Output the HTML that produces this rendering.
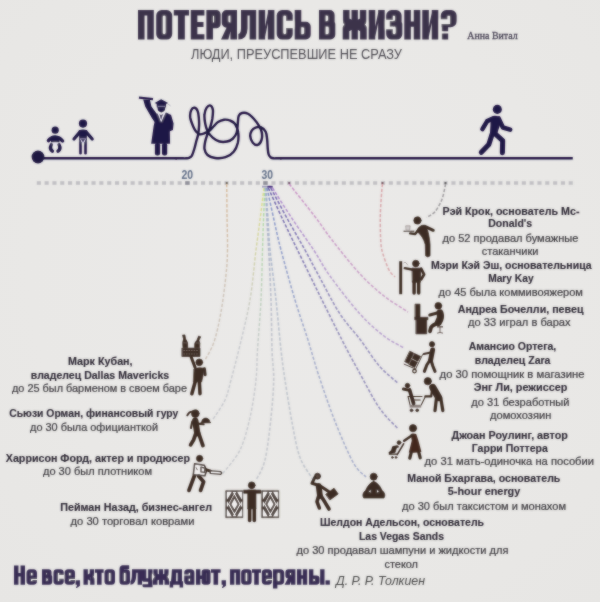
<!DOCTYPE html>
<html lang="ru"><head><meta charset="utf-8"><title>Потерялись в жизни?</title>
<style>
html,body{margin:0;padding:0;background:#e8e7e5;}
body{width:600px;height:602px;overflow:hidden;font-family:"Liberation Sans",sans-serif;}
svg{display:block;}
text{font-family:"Liberation Sans",sans-serif;}
.b{font-weight:bold;font-size:11.3px;fill:#2b2632;stroke:#2b2632;stroke-width:0.12px;}
.r{font-size:11.6px;fill:#39373c;stroke:#39373c;stroke-width:0.22px;}
.nav{fill:#1d1640;}
.br{fill:#3b2a22;}
</style></head><body>
<svg width="600" height="602" viewBox="0 0 600 602">
<defs>
<radialGradient id="bg" cx="50%" cy="45%" r="75%">
<stop offset="0" stop-color="#ebeae9"/><stop offset="0.6" stop-color="#e9e8e6"/><stop offset="1" stop-color="#e7e6e4"/>
</radialGradient>
<filter id="soft" x="0" y="0" width="600" height="602" filterUnits="userSpaceOnUse"><feGaussianBlur stdDeviation="0.8" result="b"/><feComposite in="SourceGraphic" in2="b" operator="arithmetic" k1="0" k2="0.45" k3="0.55" k4="0"/></filter>
</defs>
<rect width="600" height="602" fill="url(#bg)"/>
<g style="will-change:opacity" opacity="0.995" filter="url(#soft)">
<!-- title -->
<g id="title">

<path d="M138.00,10.10h15.80v5.30h-15.80zM138.00,10.10h6.55v29.40h-6.55zM147.25,10.10h6.55v29.40h-6.55z" fill="#3a3049"/>
<path d="M161.64,10.10H166.76A5.44,5.44 0 0 1 172.20,15.54V34.06A5.44,5.44 0 0 1 166.76,39.50H161.64A5.44,5.44 0 0 1 156.20,34.06V15.54A5.44,5.44 0 0 1 161.64,10.10z" fill="#3a3049"/>
<path d="M164.20,15.40H164.20A1.45,1.45 0 0 1 165.65,16.85V32.75A1.45,1.45 0 0 1 164.20,34.20H164.20A1.45,1.45 0 0 1 162.75,32.75V16.85A1.45,1.45 0 0 1 164.20,15.40z" fill="#eae9e8"/>
<path d="M173.80,10.10h15.20v5.30h-15.20zM177.96,10.10h6.88v29.40h-6.88z" fill="#3a3049"/>
<path d="M190.80,10.10h6.55v29.40h-6.55zM190.80,10.10h13.60v5.30h-13.60zM190.80,22.01h12.70v4.88h-12.70zM190.80,34.20h13.60v5.30h-13.60z" fill="#3a3049"/>
<path d="M206.40,10.10h6.55v29.40h-6.55zM206.40,10.10H216.34A4.26,4.26 0 0 1 220.60,14.36V23.92A4.26,4.26 0 0 1 216.34,28.18H206.40V10.10z" fill="#3a3049"/>
<path d="M212.95,15.40H212.65A1.40,1.40 0 0 1 214.05,16.80V21.48A1.40,1.40 0 0 1 212.65,22.88H212.95V15.40z" fill="#eae9e8"/>
<path d="M230.45,10.10h6.55v29.40h-6.55zM226.54,10.10H237.00V27.74H226.54A4.74,4.74 0 0 1 221.80,23.00V14.84A4.74,4.74 0 0 1 226.54,10.10zM227.95,24.74 L230.95,24.74 L230.95,29.24 L228.35,39.50 L221.00,39.50z" fill="#3a3049"/>
<path d="M229.75,15.40H230.45V22.44H229.75A1.40,1.40 0 0 1 228.35,21.04V16.80A1.40,1.40 0 0 1 229.75,15.40z" fill="#eae9e8"/>
<path d="M249.65,10.10h6.55v29.40h-6.55zM241.00,10.10h15.20v5.30h-15.20zM241.00,10.10 L247.55,10.10 L247.55,28.50 Q247.35,39.40 238.40,39.50 L238.40,34.00 Q240.80,33.60 241.00,28.50 z" fill="#3a3049"/>
<path d="M258.60,10.10h6.55v29.40h-6.55zM267.85,10.10h6.55v29.40h-6.55zM264.65,39.00 L264.65,29.00 L268.35,10.60 L268.35,20.60z" fill="#3a3049"/>
<path d="M282.14,10.10H287.26A5.44,5.44 0 0 1 292.70,15.54V34.06A5.44,5.44 0 0 1 287.26,39.50H282.14A5.44,5.44 0 0 1 276.70,34.06V15.54A5.44,5.44 0 0 1 282.14,10.10z" fill="#3a3049"/>
<path d="M284.70,15.40H284.70A1.45,1.45 0 0 1 286.15,16.85V32.75A1.45,1.45 0 0 1 284.70,34.20H284.70A1.45,1.45 0 0 1 283.25,32.75V16.85A1.45,1.45 0 0 1 284.70,15.40zM284.70,20.83h9.00v7.20h-9.00z" fill="#eae9e8"/>
<path d="M294.70,10.10h6.55v29.40h-6.55zM294.70,21.86H305.90A4.80,4.80 0 0 1 310.70,26.66V34.70A4.80,4.80 0 0 1 305.90,39.50H294.70V21.86z" fill="#3a3049"/>
<path d="M301.25,27.16H302.75A1.40,1.40 0 0 1 304.15,28.56V32.80A1.40,1.40 0 0 1 302.75,34.20H301.25V27.16z" fill="#eae9e8"/>
<path d="M319.00,10.10h6.55v29.40h-6.55zM319.00,10.10H329.71A4.89,4.89 0 0 1 334.60,14.99V23.63A2.93,2.93 0 0 1 331.67,26.57H319.00V10.10zM319.00,21.27H332.37A2.93,2.93 0 0 1 335.30,24.20V34.61A4.89,4.89 0 0 1 330.41,39.50H319.00V21.27z" fill="#3a3049"/>
<path d="M325.55,15.40H326.65A1.40,1.40 0 0 1 328.05,16.80V19.87A1.40,1.40 0 0 1 326.65,21.27H325.55V15.40zM325.55,26.57H327.35A1.40,1.40 0 0 1 328.75,27.97V32.80A1.40,1.40 0 0 1 327.35,34.20H325.55V26.57z" fill="#eae9e8"/>
<path d="M351.52,10.10h6.35v29.40h-6.35zM343.10,10.10h6.42v14.70h-6.42zM359.88,10.10h6.42v14.70h-6.42zM342.70,23.33h6.62v16.17h-6.62zM360.08,23.33h6.62v16.17h-6.62zM349.12,18.33 L354.70,21.86 L360.28,18.33 L360.28,31.27 L354.70,28.33 L349.12,31.27z" fill="#3a3049"/>
<path d="M341.70,20.91 L344.40,24.51 L341.70,28.11zM367.70,20.91 L365.00,24.51 L367.70,28.11z" fill="#eae9e8"/>
<path d="M368.70,10.10h6.55v29.40h-6.55zM378.15,10.10h6.55v29.40h-6.55zM374.75,39.00 L374.75,29.00 L378.65,10.60 L378.65,20.60z" fill="#3a3049"/>
<path d="M391.67,10.10H396.13A5.47,5.47 0 0 1 401.60,15.57V23.67A2.90,2.90 0 0 1 398.70,26.57H386.20V15.57A5.47,5.47 0 0 1 391.67,10.10zM386.20,21.27H399.40A2.90,2.90 0 0 1 402.30,24.17V34.03A5.47,5.47 0 0 1 396.83,39.50H391.67A5.47,5.47 0 0 1 386.20,34.03V21.27z" fill="#3a3049"/>
<path d="M394.15,15.40H393.65A1.40,1.40 0 0 1 395.05,16.80V19.87A1.40,1.40 0 0 1 393.65,21.27H394.15A1.40,1.40 0 0 1 392.75,19.87V16.80A1.40,1.40 0 0 1 394.15,15.40zM394.15,26.57H394.35A1.40,1.40 0 0 1 395.75,27.97V32.80A1.40,1.40 0 0 1 394.35,34.20H394.15A1.40,1.40 0 0 1 392.75,32.80V27.97A1.40,1.40 0 0 1 394.15,26.57zM385.20,19.80h7.85v1.47h-7.85zM385.20,26.57h7.85v2.64h-7.85zM385.20,21.17h4.60v5.50h-4.60z" fill="#eae9e8"/>
<path d="M404.30,10.10h6.55v29.40h-6.55zM413.75,10.10h6.55v29.40h-6.55zM404.30,21.42h16.00v5.30h-16.00z" fill="#3a3049"/>
<path d="M422.30,10.10h6.55v29.40h-6.55zM431.75,10.10h6.55v29.40h-6.55zM428.35,39.00 L428.35,29.00 L432.25,10.60 L432.25,20.60z" fill="#3a3049"/>
<path d="M446.17,10.10H451.23A5.37,5.37 0 0 1 456.60,15.47V21.29A6.00,6.00 0 0 1 450.60,27.30H440.80V15.47A5.37,5.37 0 0 1 446.17,10.10zM441.60,23.92h6.55v7.35h-6.55zM441.60,33.62h6.55v5.88h-6.55z" fill="#3a3049"/>
<path d="M448.75,15.40H448.65A1.40,1.40 0 0 1 450.05,16.80V23.92H447.35V16.80A1.40,1.40 0 0 1 448.75,15.40zM439.80,19.21h7.60v4.75h-7.60zM439.80,23.62h1.80v17.20h-1.80z" fill="#eae9e8"/>
<text x="191" y="59.4" font-size="15.3" fill="#48464d" textLength="211" lengthAdjust="spacingAndGlyphs">ЛЮДИ, ПРЕУСПЕВШИЕ НЕ СРАЗУ</text>
<text x="467.3" y="39.2" font-family="Liberation Serif" style="font-family:'Liberation Serif',serif" font-size="10.8" fill="#433e50" stroke="#433e50" stroke-width="0.3" textLength="50.4" lengthAdjust="spacingAndGlyphs">Анна Витал</text>

</g>
<!-- dotted axis -->
<g fill="#c0bfc3"><rect x="36.8" y="181.2" width="4.1" height="3.6"/><rect x="44.6" y="181.2" width="4.1" height="3.6"/><rect x="52.4" y="181.2" width="4.1" height="3.6"/><rect x="60.2" y="181.2" width="4.1" height="3.6"/><rect x="68.0" y="181.2" width="4.1" height="3.6"/><rect x="75.9" y="181.2" width="4.1" height="3.6"/><rect x="83.7" y="181.2" width="4.1" height="3.6"/><rect x="91.5" y="181.2" width="4.1" height="3.6"/><rect x="99.3" y="181.2" width="4.1" height="3.6"/><rect x="107.2" y="181.2" width="4.1" height="3.6"/><rect x="115.0" y="181.2" width="4.1" height="3.6"/><rect x="122.8" y="181.2" width="4.1" height="3.6"/><rect x="130.6" y="181.2" width="4.1" height="3.6"/><rect x="138.4" y="181.2" width="4.1" height="3.6"/><rect x="146.3" y="181.2" width="4.1" height="3.6"/><rect x="154.1" y="181.2" width="4.1" height="3.6"/><rect x="161.9" y="181.2" width="4.1" height="3.6"/><rect x="169.7" y="181.2" width="4.1" height="3.6"/><rect x="177.6" y="181.2" width="4.1" height="3.6"/><rect x="185.4" y="181.2" width="4.1" height="3.6"/><rect x="193.2" y="181.2" width="4.1" height="3.6"/><rect x="201.0" y="181.2" width="4.1" height="3.6"/><rect x="208.9" y="181.2" width="4.1" height="3.6"/><rect x="216.7" y="181.2" width="4.1" height="3.6"/><rect x="224.5" y="181.2" width="4.1" height="3.6"/><rect x="232.3" y="181.2" width="4.1" height="3.6"/><rect x="240.1" y="181.2" width="4.1" height="3.6"/><rect x="248.0" y="181.2" width="4.1" height="3.6"/><rect x="255.8" y="181.2" width="4.1" height="3.6"/><rect x="263.6" y="181.2" width="4.1" height="3.6"/><rect x="271.4" y="181.2" width="4.1" height="3.6"/><rect x="279.3" y="181.2" width="4.1" height="3.6"/><rect x="287.1" y="181.2" width="4.1" height="3.6"/><rect x="294.9" y="181.2" width="4.1" height="3.6"/><rect x="302.7" y="181.2" width="4.1" height="3.6"/><rect x="310.6" y="181.2" width="4.1" height="3.6"/><rect x="318.4" y="181.2" width="4.1" height="3.6"/><rect x="326.2" y="181.2" width="4.1" height="3.6"/><rect x="334.0" y="181.2" width="4.1" height="3.6"/><rect x="341.8" y="181.2" width="4.1" height="3.6"/><rect x="349.7" y="181.2" width="4.1" height="3.6"/><rect x="357.5" y="181.2" width="4.1" height="3.6"/><rect x="365.3" y="181.2" width="4.1" height="3.6"/><rect x="373.1" y="181.2" width="4.1" height="3.6"/><rect x="381.0" y="181.2" width="4.1" height="3.6"/><rect x="388.8" y="181.2" width="4.1" height="3.6"/><rect x="396.6" y="181.2" width="4.1" height="3.6"/><rect x="404.4" y="181.2" width="4.1" height="3.6"/><rect x="412.3" y="181.2" width="4.1" height="3.6"/><rect x="420.1" y="181.2" width="4.1" height="3.6"/><rect x="427.9" y="181.2" width="4.1" height="3.6"/><rect x="435.7" y="181.2" width="4.1" height="3.6"/><rect x="443.5" y="181.2" width="4.1" height="3.6"/><rect x="451.4" y="181.2" width="4.1" height="3.6"/><rect x="459.2" y="181.2" width="4.1" height="3.6"/><rect x="467.0" y="181.2" width="4.1" height="3.6"/><rect x="474.8" y="181.2" width="4.1" height="3.6"/><rect x="482.7" y="181.2" width="4.1" height="3.6"/><rect x="490.5" y="181.2" width="4.1" height="3.6"/><rect x="498.3" y="181.2" width="4.1" height="3.6"/><rect x="506.1" y="181.2" width="4.1" height="3.6"/><rect x="514.0" y="181.2" width="4.1" height="3.6"/><rect x="521.8" y="181.2" width="4.1" height="3.6"/><rect x="529.6" y="181.2" width="4.1" height="3.6"/><rect x="537.4" y="181.2" width="4.1" height="3.6"/><rect x="545.2" y="181.2" width="4.1" height="3.6"/><rect x="553.1" y="181.2" width="4.1" height="3.6"/><rect x="560.9" y="181.2" width="4.1" height="3.6"/><rect x="568.7" y="181.2" width="4.1" height="3.6"/></g>
<rect x="185.2" y="181.2" width="4.4" height="3.6" fill="#8e8e98"/>
<rect x="263.2" y="181.2" width="4.4" height="3.6" fill="#8e8e98"/>
<text x="181.4" y="178.7" font-size="13.2" font-weight="bold" fill="#5e6c86" textLength="11.6" lengthAdjust="spacingAndGlyphs">20</text>
<text x="261.6" y="178.7" font-size="13.2" font-weight="bold" fill="#5e6c86" textLength="11.5" lengthAdjust="spacingAndGlyphs">30</text>
<!-- curves -->
<defs>
<linearGradient id="cg0" gradientUnits="userSpaceOnUse" x1="0" y1="184" x2="0" y2="360"><stop offset="0" stop-color="#d6b694"/><stop offset="0.3" stop-color="#d1bba4"/><stop offset="0.6" stop-color="#cbc0b5"/><stop offset="1" stop-color="#cbc0b5"/></linearGradient>
<linearGradient id="cg1" gradientUnits="userSpaceOnUse" x1="0" y1="188" x2="0" y2="420"><stop offset="0" stop-color="#dcdc80"/><stop offset="0.3" stop-color="#d0d1a6"/><stop offset="0.6" stop-color="#c4c6cb"/><stop offset="1" stop-color="#c4c6cb"/></linearGradient>
<linearGradient id="cg2" gradientUnits="userSpaceOnUse" x1="0" y1="188" x2="0" y2="474"><stop offset="0" stop-color="#a8dc98"/><stop offset="0.3" stop-color="#b6d1b2"/><stop offset="0.6" stop-color="#c4c6cb"/><stop offset="1" stop-color="#c4c6cb"/></linearGradient>
<linearGradient id="cg3" gradientUnits="userSpaceOnUse" x1="0" y1="188" x2="0" y2="480"><stop offset="0" stop-color="#a6aec8"/><stop offset="0.3" stop-color="#b4b9c9"/><stop offset="0.6" stop-color="#c2c5cb"/><stop offset="1" stop-color="#c2c5cb"/></linearGradient>
<linearGradient id="cg4" gradientUnits="userSpaceOnUse" x1="0" y1="188" x2="0" y2="479"><stop offset="0" stop-color="#9fb0cc"/><stop offset="0.3" stop-color="#afb9cc"/><stop offset="0.6" stop-color="#bec3cb"/><stop offset="1" stop-color="#bec3cb"/></linearGradient>
<linearGradient id="cg5" gradientUnits="userSpaceOnUse" x1="0" y1="188" x2="0" y2="477"><stop offset="0" stop-color="#7f8fc6"/><stop offset="0.3" stop-color="#909dc7"/><stop offset="0.6" stop-color="#a2aac8"/><stop offset="1" stop-color="#a2aac8"/></linearGradient>
<linearGradient id="cg6" gradientUnits="userSpaceOnUse" x1="0" y1="188" x2="0" y2="428"><stop offset="0" stop-color="#6a60a8"/><stop offset="0.3" stop-color="#7d75af"/><stop offset="0.6" stop-color="#908bb7"/><stop offset="1" stop-color="#908bb7"/></linearGradient>
<linearGradient id="cg7" gradientUnits="userSpaceOnUse" x1="0" y1="188" x2="0" y2="383"><stop offset="0" stop-color="#6e62ac"/><stop offset="0.3" stop-color="#8077b3"/><stop offset="0.6" stop-color="#928cb9"/><stop offset="1" stop-color="#928cb9"/></linearGradient>
<linearGradient id="cg8" gradientUnits="userSpaceOnUse" x1="0" y1="188" x2="0" y2="348"><stop offset="0" stop-color="#ac86cc"/><stop offset="0.3" stop-color="#b091cc"/><stop offset="0.6" stop-color="#b49ccc"/><stop offset="1" stop-color="#b49ccc"/></linearGradient>
<linearGradient id="cg9" gradientUnits="userSpaceOnUse" x1="0" y1="184" x2="0" y2="312"><stop offset="0" stop-color="#c890c4"/><stop offset="0.3" stop-color="#c895c5"/><stop offset="0.6" stop-color="#c79bc5"/><stop offset="1" stop-color="#c79bc5"/></linearGradient>
<linearGradient id="cg10" gradientUnits="userSpaceOnUse" x1="0" y1="184" x2="0" y2="277"><stop offset="0" stop-color="#d8a0a4"/><stop offset="0.3" stop-color="#d7a2a6"/><stop offset="0.6" stop-color="#d6a4a8"/><stop offset="1" stop-color="#d6a4a8"/></linearGradient>
<linearGradient id="cg11" gradientUnits="userSpaceOnUse" x1="0" y1="184" x2="0" y2="218"><stop offset="0" stop-color="#9a979a"/><stop offset="0.3" stop-color="#9a979a"/><stop offset="0.6" stop-color="#9a979a"/><stop offset="1" stop-color="#9a979a"/></linearGradient>
</defs>
<path d="M226.7,184.0 C226.8,189.2 226.9,204.0 227.0,215.0 C227.1,226.0 227.7,240.0 227.5,250.0 C227.3,260.0 227.1,264.7 226.0,275.0 C224.9,285.3 223.0,300.8 221.0,312.0 C219.0,323.2 216.7,334.0 214.0,342.0 C211.3,350.0 206.5,357.0 205.0,360.0" fill="none" stroke="url(#cg0)" stroke-width="1.40" stroke-dasharray="3.3 1.7"/>
<path d="M264.0,188.0 C263.3,193.3 261.3,209.7 260.0,220.0 C258.7,230.3 257.7,236.7 256.0,250.0 C254.3,263.3 252.7,284.2 250.0,300.0 C247.3,315.8 243.2,331.7 240.0,345.0 C236.8,358.3 233.5,370.8 231.0,380.0 C228.5,389.2 228.1,393.3 225.0,400.0 C221.9,406.7 214.6,416.7 212.5,420.0" fill="none" stroke="url(#cg1)" stroke-width="1.40" stroke-dasharray="3.3 1.7"/>
<path d="M264.8,188.0 C264.6,193.3 263.9,209.7 263.5,220.0 C263.1,230.3 262.9,236.7 262.5,250.0 C262.1,263.3 261.8,283.3 261.0,300.0 C260.2,316.7 258.3,336.7 257.5,350.0 C256.7,363.3 257.2,368.8 256.0,380.0 C254.8,391.2 252.7,405.8 250.0,417.5 C247.3,429.2 244.6,440.6 240.0,450.0 C235.4,459.4 225.4,469.8 222.5,473.7" fill="none" stroke="url(#cg2)" stroke-width="1.40" stroke-dasharray="3.3 1.7"/>
<path d="M265.5,188.0 C265.8,193.3 266.5,209.7 267.0,220.0 C267.5,230.3 268.0,236.7 268.7,250.0 C269.4,263.3 270.4,283.3 271.0,300.0 C271.6,316.7 271.6,336.7 272.0,350.0 C272.4,363.3 273.9,368.8 273.7,380.0 C273.5,391.2 272.4,404.2 271.0,417.5 C269.6,430.8 267.5,449.6 265.0,460.0 C262.5,470.4 257.5,476.7 256.0,480.0" fill="none" stroke="url(#cg3)" stroke-width="1.60" stroke-dasharray="3.3 1.7"/>
<path d="M266.0,188.0 C266.3,193.3 267.3,209.7 268.0,220.0 C268.7,230.3 268.7,236.7 270.0,250.0 C271.3,263.3 274.2,283.3 276.0,300.0 C277.8,316.7 279.5,336.7 281.0,350.0 C282.5,363.3 283.1,367.5 285.0,380.0 C286.9,392.5 290.0,412.1 292.5,425.0 C295.0,437.9 296.7,448.6 300.0,457.5 C303.3,466.4 310.4,475.2 312.5,478.7" fill="none" stroke="url(#cg4)" stroke-width="1.60" stroke-dasharray="3.3 1.7"/>
<path d="M267.0,188.0 C268.2,193.3 271.7,209.7 274.0,220.0 C276.3,230.3 277.5,236.7 281.0,250.0 C284.5,263.3 290.5,285.0 295.0,300.0 C299.5,315.0 304.1,327.5 308.0,340.0 C311.9,352.5 314.1,361.4 318.6,375.0 C323.1,388.6 329.2,406.7 335.0,421.4 C340.8,436.1 348.3,453.7 353.5,463.0 C358.7,472.3 363.9,474.7 366.0,477.0" fill="none" stroke="url(#cg5)" stroke-width="1.50" stroke-dasharray="3.3 1.7"/>
<path d="M268.3,188.0 C270.8,193.3 278.1,209.7 283.0,220.0 C287.9,230.3 291.3,237.3 297.5,250.0 C303.7,262.7 312.6,281.0 320.0,296.0 C327.4,311.0 335.7,327.7 342.0,340.0 C348.3,352.3 351.8,358.8 358.0,370.0 C364.2,381.2 372.4,397.7 379.0,407.4 C385.6,417.1 394.6,424.9 397.7,428.4" fill="none" stroke="url(#cg6)" stroke-width="1.55" stroke-dasharray="3.3 1.7"/>
<path d="M270.8,188.0 C273.7,193.3 282.3,209.7 288.0,220.0 C293.7,230.3 299.7,240.3 305.0,250.0 C310.3,259.7 314.2,267.3 320.0,278.0 C325.8,288.7 333.2,303.7 340.0,314.0 C346.8,324.3 354.0,331.4 360.5,340.0 C367.0,348.6 372.8,358.4 379.0,365.6 C385.2,372.8 394.6,380.1 397.7,383.0" fill="none" stroke="url(#cg7)" stroke-width="1.55" stroke-dasharray="3.3 1.7"/>
<path d="M272.5,188.0 C275.9,193.3 286.1,209.7 293.0,220.0 C299.9,230.3 307.5,240.7 313.7,250.0 C319.9,259.3 322.3,265.3 330.0,276.0 C337.7,286.7 351.0,304.0 360.0,314.0 C369.0,324.0 376.7,330.3 384.0,336.0 C391.3,341.7 400.7,346.0 404.0,348.0" fill="none" stroke="url(#cg8)" stroke-width="1.50" stroke-dasharray="3.3 1.7"/>
<path d="M289.2,184.0 C293.5,189.4 307.9,207.4 315.0,216.7 C322.1,226.0 324.5,230.4 332.0,240.0 C339.5,249.6 351.3,264.7 360.0,274.0 C368.7,283.3 376.0,289.7 384.0,296.0 C392.0,302.3 404.0,309.3 408.0,312.0" fill="none" stroke="url(#cg9)" stroke-width="1.50" stroke-dasharray="3.3 1.7"/>
<path d="M382.5,184.0 C382.4,185.3 382.1,186.2 381.7,191.7 C381.3,197.1 380.4,208.4 380.3,216.7 C380.2,225.0 380.4,235.5 380.8,241.7 C381.2,247.9 381.6,249.3 383.0,254.0 C384.4,258.7 387.0,266.2 389.0,270.0 C391.0,273.8 394.0,275.8 395.0,277.0" fill="none" stroke="url(#cg10)" stroke-width="1.50" stroke-dasharray="3.3 1.7"/>
<path d="M445.5,184.0 C445.4,184.5 445.6,184.3 445.0,187.0 C444.4,189.7 443.4,195.9 441.7,200.0 C440.0,204.1 437.5,208.8 435.0,211.7 C432.5,214.6 428.1,216.5 426.7,217.5" fill="none" stroke="url(#cg11)" stroke-width="1.50" stroke-dasharray="3.3 1.7"/>
<rect x="225.8" y="182" width="1.8" height="2" fill="#5a5040"/>
<rect x="288.3" y="182" width="1.8" height="2" fill="#6a3a5a"/>
<rect x="381.6" y="182" width="1.8" height="2" fill="#6a3a45"/>
<rect x="444.6" y="182" width="1.8" height="2" fill="#444"/>
<rect x="262" y="185.8" width="5.5" height="1.8" fill="#9a98b8"/>
<rect x="267.3" y="185.8" width="5.4" height="1.9" fill="#3a1d78"/>
<!-- timeline -->
<path d="M38,158.3 L177,158.3" stroke="#1d1640" stroke-width="2.6" fill="none"/>
<path d="M176.0,158.3 C176.9,158.3 179.6,158.3 181.3,158.3 C183.0,158.3 184.9,158.4 186.2,158.3 C187.5,158.2 188.2,158.3 189.2,157.8 C190.1,157.4 191.0,157.1 191.9,155.6 C192.7,154.1 193.6,151.3 194.3,149.0 C195.0,146.6 195.6,143.9 196.2,141.5 C196.9,139.0 197.7,137.0 198.2,134.3 C198.7,131.5 199.0,127.8 199.1,125.0 C199.2,122.2 199.0,119.8 198.8,117.5 C198.6,115.2 198.4,112.8 197.7,111.2 C197.1,109.6 195.8,107.9 194.7,107.7 C193.7,107.5 192.0,108.4 191.3,110.0 C190.5,111.6 189.9,114.7 190.2,117.5 C190.6,120.2 192.2,124.1 193.2,126.5 C194.2,128.9 195.1,130.4 196.2,131.7 C197.4,133.0 198.6,134.0 200.0,134.3 C201.4,134.5 203.0,133.8 204.5,133.2 C206.0,132.7 207.5,132.1 209.0,131.0 C210.5,129.9 212.0,128.0 213.5,126.5 C215.0,125.0 216.2,123.1 218.0,122.0 C219.7,120.9 222.0,120.0 224.0,119.7 C226.0,119.5 228.1,119.7 230.0,120.5 C231.9,121.2 233.9,122.2 235.2,124.2 C236.6,126.2 237.8,129.4 238.2,132.5 C238.7,135.6 238.5,139.8 237.8,143.0 C237.0,146.2 235.8,149.3 233.7,151.7 C231.7,154.1 228.6,156.2 225.5,157.2 C222.4,158.3 218.0,158.4 215.0,158.0 C212.0,157.6 209.2,156.5 207.5,155.0 C205.7,153.5 204.9,151.2 204.5,149.0 C204.1,146.7 204.7,144.0 205.2,141.5 C205.7,139.0 206.7,136.4 207.5,134.0 C208.3,131.6 209.4,129.7 210.2,127.2 C211.0,124.7 211.8,121.9 212.3,119.0 C212.7,116.1 213.2,112.2 212.9,110.0 C212.6,107.7 211.5,105.9 210.5,105.5 C209.5,105.1 207.7,106.2 206.7,107.7 C205.7,109.2 204.7,111.9 204.5,114.5 C204.2,117.1 204.7,120.7 205.2,123.5 C205.7,126.2 206.2,128.6 207.5,131.0 C208.7,133.4 210.7,136.0 212.7,137.7 C214.7,139.5 217.1,140.9 219.5,141.5 C221.9,142.1 224.7,142.0 227.0,141.5 C229.2,141.0 231.4,140.0 233.0,138.5 C234.6,137.0 235.9,135.0 236.7,132.5 C237.5,130.0 237.5,126.2 237.8,123.5 C238.1,120.7 238.0,117.7 238.7,116.0 C239.4,114.2 240.4,113.4 242.0,113.0 C243.5,112.6 246.0,112.7 248.0,113.7 C250.0,114.7 252.1,116.9 254.0,119.0 C255.9,121.1 257.9,123.9 259.2,126.2 C260.5,128.4 261.4,130.2 261.8,132.5 C262.2,134.8 262.2,137.9 261.5,140.0 C260.8,142.1 259.2,144.5 257.7,144.9 C256.3,145.4 254.0,144.1 252.8,142.7 C251.5,141.2 250.4,138.2 250.2,136.2 C250.1,134.2 250.9,132.1 251.7,130.7 C252.6,129.3 254.0,128.3 255.5,127.7 C257.0,127.1 259.0,126.6 260.7,127.2 C262.4,127.9 264.6,129.6 265.7,131.7 C266.8,133.9 266.8,137.1 267.2,140.0 C267.5,142.9 267.5,146.5 267.8,149.0 C268.0,151.4 268.2,153.3 268.7,154.7 C269.2,156.1 270.0,156.9 270.8,157.5 C271.6,158.1 272.4,158.2 273.5,158.3 C274.6,158.4 276.0,158.3 277.2,158.3 C278.5,158.3 280.4,158.3 281.0,158.3" stroke="#1d1640" stroke-width="2.4" fill="none" stroke-linecap="round" stroke-linejoin="round"/>
<path d="M280,158.3 L572.8,158.3" stroke="#1d1640" stroke-width="2.6" fill="none"/>
<circle cx="38" cy="157" r="6.4" class="nav"/>

<!-- baby + child (coords from 10x zoom of region 40,115) -->
<g transform="translate(40,115) scale(0.1)" fill="#1d1444" stroke="#1d1444" stroke-linecap="round" stroke-linejoin="round">
<circle cx="152" cy="152" r="36" stroke="none"/>
<path d="M84,256 Q110,222 152,220 Q196,222 226,260" fill="none" stroke-width="34"/>
<path d="M110,216 H195 V274 H110z" stroke="none"/>
<path d="M122,274 H182 L170,304 Q152,314 134,304z" fill="#e6e3ee" stroke="none"/>
<path d="M114,298 Q92,338 124,362" fill="none" stroke-width="34"/>
<path d="M190,298 Q212,338 180,362" fill="none" stroke-width="34"/>
<circle cx="430" cy="86" r="41" stroke="none"/>
<path d="M402,166 L340,240" fill="none" stroke-width="32"/>
<path d="M458,166 L522,240" fill="none" stroke-width="32"/>
<path d="M388,152 Q430,138 472,152 L466,252 H394z" stroke="none"/>
<path d="M405,245 V383" fill="none" stroke-width="26"/>
<path d="M455,245 V383" fill="none" stroke-width="26"/>
<path d="M400,236 H460 L450,262 L430,288 L410,262z" fill="#cfc9e2" stroke="none"/>
<path d="M410,242 H450 L430,270z" fill="#1d1444" stroke="none"/>
</g>
<!-- graduate (coords from 8.033x zoom of region 130,90) -->
<g transform="translate(130,90) scale(0.12449)" fill="#1d1444" stroke="none">
<path d="M73,52 L186,64 L184,82 L71,70z"/>
<path d="M106,76 L160,80 L172,132 L222,200 L205,268 L178,228 L122,132z"/>
<path d="M198,104 L250,74 L306,104 L252,128z"/>
<path d="M214,112 L290,112 L288,140 L216,140z"/>
<path d="M222,128 H282 V150 Q280,176 252,180 Q224,176 222,150z"/>
<path d="M222,131 H284" stroke="#cfc9e2" stroke-width="5"/>
<path d="M302,110 L326,128" stroke="#8f8aa8" stroke-width="5"/>
<path d="M214,186 L250,200 L290,180 L330,200 L350,270 L345,322 L320,332 L322,432 L170,432 L190,290z"/>
<path d="M220,184 L250,262 L286,182 L268,178 L250,238 L234,180z" fill="#e6e3ee"/>
<rect x="200" y="425" width="42" height="102" rx="18"/>
<rect x="257" y="425" width="42" height="102" rx="18"/>
</g>
<!-- walker (coords from 7.5x zoom of region 460,95) -->
<g transform="translate(460,95) scale(0.13333)" fill="#1d1444" stroke="#1d1444" stroke-linecap="round" stroke-linejoin="round">
<circle cx="280" cy="108" r="34" stroke="none"/>
<path d="M230,166 Q262,144 296,166 L304,212 L276,298 L224,302 L228,230z" stroke="none"/>
<path d="M238,180 L204,196 L168,256" fill="none" stroke-width="34"/>
<path d="M290,176 L322,244 L376,260" fill="none" stroke-width="34"/>
<path d="M240,296 L216,372 L160,430" fill="none" stroke-width="38"/>
<path d="M262,290 L320,342 L318,432" fill="none" stroke-width="38"/>
</g>


<g fill="#3a2a22" stroke="#3a2a22" stroke-linecap="round" stroke-linejoin="round">
<!-- 1 waiter + 2 door (6.333x of 395,205) -->
<g transform="translate(395,205) scale(0.15789)">
<circle cx="142" cy="98" r="23" stroke-width="4.4"/>
<path d="M150,142 Q170,122 192,128 Q214,160 222,250 L222,322 Q208,336 194,322 L192,252 Q180,200 140,168z" stroke-width="4.4"/>
<path d="M196,138 L242,160" fill="none" stroke-width="19.4"/>
<path d="M152,152 L128,184 L96,180" fill="none" stroke-width="15.1"/>
<path d="M54,166 H122" fill="none" stroke-width="6.5" stroke-linecap="butt"/>
<path d="M70,132 H96 L93,160 H73z" fill="#cfcacb" stroke="#8a807d" stroke-width="4"/>
<path d="M36,356 V565" fill="none" stroke-width="18.4" stroke-linecap="butt"/>
<circle cx="132" cy="371" r="21" stroke-width="4.4"/>
<path d="M110,400 H164 L160,490 H112z" stroke-width="4.4"/>
<path d="M166,404 L184,440 L166,470" fill="none" stroke-width="17.3"/>
<path d="M114,410 L62,400" fill="none" stroke-width="15.1"/>
<path d="M121,485 V558" fill="none" stroke-width="21.6"/>
<path d="M150,485 V558" fill="none" stroke-width="21.6"/>
<path d="M56,366 q8,-8 14,0 q6,8 10,14" fill="none" stroke="#8a807d" stroke-width="4"/>
</g>
<!-- 3 piano (12x of 405,295) -->
<g transform="translate(405,295) scale(0.08333)">
<path d="M125,110 H180 V272 H125z" stroke-width="8.4"/>
<path d="M120,268 H275 V296 H120z" stroke-width="8.4"/>
<path d="M135,294 H260 V466 H135z" stroke-width="8.4"/>
<circle cx="400" cy="130" r="41" stroke-width="8.4"/>
<path d="M420,215 Q440,270 400,330" fill="none" stroke-width="84.2"/>
<path d="M396,214 L298,240" fill="none" stroke-width="36.7"/>
<path d="M400,338 Q330,360 312,390 L300,436" fill="none" stroke-width="45.4"/>
<path d="M384,382 H456" fill="none" stroke-width="14" stroke-linecap="butt" stroke="#4a3a33"/>
<path d="M420,388 V444 M390,456 Q420,440 452,456" fill="none" stroke-width="10" stroke="#55443e"/>
</g>
<!-- 4 hand truck (10x of 395,335) -->
<g transform="translate(395,335) scale(0.1)">
<circle cx="370" cy="92" r="26" stroke-width="7.0"/>
<path d="M376,150 L356,250" fill="none" stroke-width="49.7"/>
<path d="M366,172 L288,190" fill="none" stroke-width="21.6"/>
<path d="M350,250 L318,300 L294,364" fill="none" stroke-width="30.2"/>
<path d="M360,250 L378,310 L400,364" fill="none" stroke-width="30.2"/>
<path d="M276,196 L206,340 L92,292" fill="none" stroke-width="8.6"/>
<circle cx="195" cy="361" r="18" fill="none" stroke-width="11.9"/>
<path d="M150,163 L186,180 L136,286 L100,268z" stroke-width="7.0"/>
<path d="M196,186 L256,214 L228,262 L172,232z" stroke-width="7.0"/>
<path d="M166,244 L224,272 L196,324 L142,296z" stroke-width="7.0"/>
</g>
<!-- 5 shopping cart (10x of 395,375) -->
<g transform="translate(395,375) scale(0.1)">
<circle cx="328" cy="62" r="36" stroke-width="7.0"/>
<path d="M378,124 L436,226" fill="none" stroke-width="71.3"/>
<path d="M372,132 L362,214 L304,214" fill="none" stroke-width="22.7"/>
<path d="M414,236 L400,356" fill="none" stroke-width="32.4"/>
<path d="M458,232 L478,356" fill="none" stroke-width="32.4"/>
<path d="M304,214 L262,300 M130,214 H270 M130,214 L150,300 M190,250 H252" fill="none" stroke-width="10.3"/>
<path d="M146,298 H262 V326 H146z" fill="#8a7f7c" stroke="none"/>
<circle cx="165" cy="353" r="14" stroke-width="7.0"/><circle cx="222" cy="353" r="14" stroke-width="7.0"/>
<circle cx="125" cy="106" r="23" stroke-width="7.0"/>
<path d="M146,150 L186,286" fill="none" stroke-width="36.7"/>
<path d="M84,140 L146,154" fill="none" stroke-width="29.2"/>
</g>
<!-- 6 stroller (10x of 380,420) -->
<g transform="translate(380,420) scale(0.1)">
<circle cx="330" cy="82" r="36" stroke-width="7.0"/>
<path d="M306,140 Q334,128 362,140 L382,200 L414,318 Q350,334 288,324 L318,204z" stroke="none" fill="#43281f"/>
<path d="M322,152 L242,208" fill="none" stroke-width="25.9"/>
<path d="M312,326 L298,382" fill="none" stroke-width="32.4"/>
<path d="M388,324 L402,378" fill="none" stroke-width="32.4"/>
<path d="M236,238 L172,346" fill="none" stroke-width="16.2"/>
<circle cx="190" cy="226" r="19" stroke-width="7.0"/>
<path d="M176,266 L132,274 L122,308 L98,330" fill="none" stroke-width="23.8"/>
<path d="M170,262 L150,326 L106,334 L128,296 L132,268z" stroke-width="7.0"/>
<path d="M94,342 H172" fill="none" stroke-width="13.0"/>
<circle cx="124" cy="374" r="9" stroke-width="7.0"/><circle cx="160" cy="374" r="9" stroke-width="7.0"/>
</g>
<!-- 7 salesman + 8 monk (6x of 295,460) -->
<g transform="translate(295,460) scale(0.16667)">
<circle cx="135" cy="97" r="18" stroke-width="4.2"/>
<circle cx="135" cy="97" r="9" fill="#5a4a42" stroke="none"/>
<path d="M118,106 L102,140 L140,152" fill="none" stroke-width="18.4"/>
<path d="M142,156 L150,216" fill="none" stroke-width="34.6"/>
<path d="M152,156 L204,190" fill="none" stroke-width="18.4"/>
<path d="M0,-21 H60 V21 H0z" transform="translate(198,222) rotate(-36)" stroke-width="4.2"/>
<path d="M142,216 L132,250 L146,288" fill="none" stroke-width="21.6"/>
<path d="M156,216 L180,254 L204,294" fill="none" stroke-width="21.6"/>
<circle cx="472" cy="100" r="21" stroke-width="4.2"/>
<path d="M472,128 Q504,140 522,182 Q548,204 534,228 L412,228 Q398,204 424,182 Q442,140 472,128z" stroke-width="4.2"/>
<path d="M442,188 L454,180 V196z M504,188 L492,180 V196z" fill="#d8d3d2" stroke="none"/>
</g>
<!-- 9 bartender (8.6x of 170,330) -->
<g transform="translate(170,330) scale(0.11628)">
<path d="M105,156 H258 V228 H105z" stroke-width="6.0"/>
<path d="M118,176 H246 M118,206 H246" fill="none" stroke="#9a8d88" stroke-width="5" stroke-dasharray="8 14"/>
<path d="M110,44 L128,42 L134,78 Q158,100 152,152 H112 Q104,104 116,80z" stroke-width="6.0"/>
<path d="M262,58 L246,52 L232,88 Q206,104 212,152 H254 Q262,110 250,90z" stroke-width="6.0"/>
<path d="M120,110 L140,112 M226,112 L246,112" fill="none" stroke="#8a7f7c" stroke-width="5"/>
<path d="M182,232 L216,322" fill="none" stroke-width="25.9"/>
<circle cx="252" cy="278" r="29" stroke-width="6.0"/>
<path d="M208,334 Q250,318 290,328 L284,392 L272,446 H204z" stroke-width="6.0"/>
<path d="M296,334 L302,384" fill="none" stroke-width="25.9"/>
<path d="M218,440 L188,548" fill="none" stroke-width="30.2"/>
<path d="M252,440 L258,548" fill="none" stroke-width="30.2"/>
</g>
<!-- 10 waitress + 11 carpenter (6.0167x of 175,400) -->
<g transform="translate(175,400) scale(0.1662)">
<circle cx="122" cy="82" r="23" stroke-width="4.2"/>
<path d="M104,70 Q84,70 74,92" fill="none" stroke-width="11.9"/>
<path d="M122,124 L134,200" fill="none" stroke-width="37.8"/>
<path d="M104,130 L96,168" fill="none" stroke-width="13.0"/>
<path d="M136,142 L172,146" fill="none" stroke-width="13.0"/>
<path d="M160,134 A25,25 0 0 1 210,134z" stroke-width="4.2"/>
<path d="M156,136 H214" fill="none" stroke-width="5.4"/>
<path d="M126,200 L112,240 L94,270" fill="none" stroke-width="22.7"/>
<path d="M142,200 L156,240 L168,274" fill="none" stroke-width="22.7"/>
<circle cx="148" cy="352" r="19" stroke-width="4.2"/>
<path d="M118,384 L176,392 L190,424 L180,456 L110,450z" fill="#f1efef" stroke-width="9"/>
<path d="M156,404 L180,410 L178,436 L156,432z" fill="#f1efef" stroke-width="8"/>
<path d="M190,420 L214,428" fill="none" stroke-width="17.3"/>
<path d="M212,425 L274,431 Q288,440 274,447 L212,441z" fill="#f1efef" stroke-width="8"/>
<path d="M128,408 L134,420" fill="none" stroke-width="5.4"/>
<path d="M116,458 L84,544" fill="none" stroke-width="22.7"/>
<path d="M142,458 L172,492 L154,544" fill="none" stroke-width="22.7"/>
</g>
<!-- 12 carpets (8.571x of 220,475) -->
<g transform="translate(220,475) scale(0.11667)">
<circle cx="272" cy="88" r="29" stroke-width="6.0"/>
<path d="M205,130 H350 V156 H205z" stroke-width="6.0"/>
<path d="M240,130 H308 V290 H240z" stroke-width="6.0"/>
<path d="M254,285 V390" fill="none" stroke-width="30.2"/>
<path d="M294,285 V390" fill="none" stroke-width="30.2"/>
<g>
<path d="M52,135 H195 V365 H52z" stroke-width="6.0"/>
<path d="M124,152 L178,250 L124,348 L70,250z" fill="#f3f1f1" stroke="none"/>
<path d="M124,176 L164,250 L124,324 L84,250z" stroke-width="6.0"/>
<path d="M124,204 L150,250 L124,296 L98,250z" fill="#f3f1f1" stroke="none"/>
<path d="M60,144 H102 L60,212z M188,144 H146 L188,212z M60,356 H102 L60,288z M188,356 H146 L188,288z" fill="#f3f1f1" stroke="none"/>
<path d="M60,222 L76,250 L60,278z M188,222 L172,250 L188,278z" fill="#f3f1f1" stroke="none"/>
<path d="M108,146 H140 L124,170z M108,354 H140 L124,330z" fill="#f3f1f1" stroke="none"/>
</g>
<g transform="translate(308,0)">
<path d="M52,135 H195 V365 H52z" stroke-width="6.0"/>
<path d="M124,152 L178,250 L124,348 L70,250z" fill="#f3f1f1" stroke="none"/>
<path d="M124,176 L164,250 L124,324 L84,250z" stroke-width="6.0"/>
<path d="M124,204 L150,250 L124,296 L98,250z" fill="#f3f1f1" stroke="none"/>
<path d="M60,144 H102 L60,212z M188,144 H146 L188,212z M60,356 H102 L60,288z M188,356 H146 L188,288z" fill="#f3f1f1" stroke="none"/>
<path d="M60,222 L76,250 L60,278z M188,222 L172,250 L188,278z" fill="#f3f1f1" stroke="none"/>
<path d="M108,146 H140 L124,170z M108,354 H140 L124,330z" fill="#f3f1f1" stroke="none"/>
</g>
</g>
</g>

<!-- text -->
<text class="b" x="442.5" y="215.2" textLength="137.0" lengthAdjust="spacingAndGlyphs">Рэй Крок, основатель Mc-</text>
<text class="b" x="488.2" y="227.3" textLength="44.0" lengthAdjust="spacingAndGlyphs">Donald's</text>
<text class="r" x="442.5" y="241.6" textLength="135.9" lengthAdjust="spacingAndGlyphs">до 52 продавал бумажные</text>
<text class="r" x="481.7" y="254.6" textLength="56.8" lengthAdjust="spacingAndGlyphs">стаканчики</text>
<text class="b" x="431.0" y="268.6" textLength="160.6" lengthAdjust="spacingAndGlyphs">Мэри Кэй Эш, основательница</text>
<text class="b" x="488.2" y="282.2" textLength="45.4" lengthAdjust="spacingAndGlyphs">Mary Kay</text>
<text class="r" x="438.6" y="295.6" textLength="144.3" lengthAdjust="spacingAndGlyphs">до 45 была коммивояжером</text>
<text class="b" x="457.7" y="313.0" textLength="125.8" lengthAdjust="spacingAndGlyphs">Андреа Бочелли, певец</text>
<text class="r" x="468.0" y="326.4" textLength="102.6" lengthAdjust="spacingAndGlyphs">до 33 играл в барах</text>
<text class="b" x="468.8" y="350.3" textLength="87.5" lengthAdjust="spacingAndGlyphs">Амансио Ортега,</text>
<text class="b" x="474.8" y="364.0" textLength="75.7" lengthAdjust="spacingAndGlyphs">владелец Zara</text>
<text class="r" x="439.6" y="377.6" textLength="144.8" lengthAdjust="spacingAndGlyphs">до 30 помощник в магазине</text>
<text class="b" x="473.8" y="391.2" textLength="93.6" lengthAdjust="spacingAndGlyphs">Энг Ли, режиссер</text>
<text class="r" x="471.3" y="405.6" textLength="98.2" lengthAdjust="spacingAndGlyphs">до 31 безработный</text>
<text class="r" x="490.0" y="418.8" textLength="61.3" lengthAdjust="spacingAndGlyphs">домохозяин</text>
<text class="b" x="451.5" y="439.0" textLength="116.3" lengthAdjust="spacingAndGlyphs">Джоан Роулинг, автор</text>
<text class="b" x="471.8" y="452.2" textLength="76.0" lengthAdjust="spacingAndGlyphs">Гарри Поттера</text>
<text class="r" x="424.6" y="465.3" textLength="169.4" lengthAdjust="spacingAndGlyphs">до 31 мать-одиночка на пособии</text>
<text class="b" x="407.2" y="482.3" textLength="153.2" lengthAdjust="spacingAndGlyphs">Маной Бхаргава, основатель</text>
<text class="b" x="447.8" y="495.2" textLength="72.5" lengthAdjust="spacingAndGlyphs">5-hour energy</text>
<text class="r" x="402.0" y="509.6" textLength="164.0" lengthAdjust="spacingAndGlyphs">до 30 был таксистом и монахом</text>
<text class="b" x="320.0" y="526.4" textLength="164.0" lengthAdjust="spacingAndGlyphs">Шелдон Адельсон, основатель</text>
<text class="b" x="359.0" y="539.8" textLength="85.0" lengthAdjust="spacingAndGlyphs">Las Vegas Sands</text>
<text class="r" x="296.5" y="554.0" textLength="211.9" lengthAdjust="spacingAndGlyphs">до 30 продавал шампуни и жидкости для</text>
<text class="r" x="384.5" y="568.0" textLength="33.5" lengthAdjust="spacingAndGlyphs">стекол</text>
<text class="b" x="68.0" y="365.0" textLength="64.6" lengthAdjust="spacingAndGlyphs">Марк Кубан,</text>
<text class="b" x="30.8" y="378.5" textLength="138.4" lengthAdjust="spacingAndGlyphs">владелец Dallas Mavericks</text>
<text class="r" x="12.0" y="392.2" textLength="175.0" lengthAdjust="spacingAndGlyphs">до 25 был барменом в своем баре</text>
<text class="b" x="9.2" y="417.3" textLength="169.1" lengthAdjust="spacingAndGlyphs">Сьюзи Орман, финансовый гуру</text>
<text class="r" x="30.0" y="430.6" textLength="128.0" lengthAdjust="spacingAndGlyphs">до 30 была официанткой</text>
<text class="b" x="5.8" y="461.6" textLength="184.2" lengthAdjust="spacingAndGlyphs">Харрисон Форд, актер и продюсер</text>
<text class="r" x="43.0" y="474.8" textLength="109.0" lengthAdjust="spacingAndGlyphs">до 30 был плотником</text>
<text class="b" x="60.2" y="511.4" textLength="151.8" lengthAdjust="spacingAndGlyphs">Пейман Назад, бизнес-ангел</text>
<text class="r" x="70.6" y="525.1" textLength="123.8" lengthAdjust="spacingAndGlyphs">до 30 торговал коврами</text>

<path d="M14.00,565.60h4.45v19.10h-4.45zM20.55,565.60h4.45v19.10h-4.45zM14.00,572.95h11.00v3.60h-11.00z" fill="#372c52"/>
<path d="M30.28,569.30H33.22A3.78,3.78 0 0 1 37.00,573.08V580.92A3.78,3.78 0 0 1 33.22,584.70H30.28A3.78,3.78 0 0 1 26.50,580.92V573.08A3.78,3.78 0 0 1 30.28,569.30z" fill="#372c52"/>
<path d="M31.75,572.80H31.75A0.90,0.90 0 0 1 32.65,573.70V574.66A0.90,0.90 0 0 1 31.75,575.56H31.75A0.90,0.90 0 0 1 30.85,574.66V573.70A0.90,0.90 0 0 1 31.75,572.80zM31.75,579.06H31.75A0.90,0.90 0 0 1 32.65,579.96V580.30A0.90,0.90 0 0 1 31.75,581.20H31.75A0.90,0.90 0 0 1 30.85,580.30V579.96A0.90,0.90 0 0 1 31.75,579.06zM31.75,579.06h6.25v1.02h-6.25z" fill="#e8e7e5"/>
<path d="M42.00,569.30h4.35v15.40h-4.35zM42.00,569.30H48.44A3.06,3.06 0 0 1 51.50,572.36V576.45A1.84,1.84 0 0 1 49.66,578.29H42.00V569.30zM42.00,574.79H50.36A1.84,1.84 0 0 1 52.20,576.62V581.64A3.06,3.06 0 0 1 49.14,584.70H42.00V574.79z" fill="#372c52"/>
<path d="M46.35,572.80H45.75A1.40,1.40 0 0 1 47.15,574.20V573.39A1.40,1.40 0 0 1 45.75,574.79H46.35V572.80zM46.35,578.29H46.45A1.40,1.40 0 0 1 47.85,579.69V579.80A1.40,1.40 0 0 1 46.45,581.20H46.35V578.29z" fill="#e8e7e5"/>
<path d="M56.97,569.30H60.23A3.47,3.47 0 0 1 63.70,572.77V581.23A3.47,3.47 0 0 1 60.23,584.70H56.97A3.47,3.47 0 0 1 53.50,581.23V572.77A3.47,3.47 0 0 1 56.97,569.30z" fill="#372c52"/>
<path d="M58.60,572.80H58.60A0.75,0.75 0 0 1 59.35,573.55V580.45A0.75,0.75 0 0 1 58.60,581.20H58.60A0.75,0.75 0 0 1 57.85,580.45V573.55A0.75,0.75 0 0 1 58.60,572.80zM58.60,574.92h6.10v3.77h-6.10z" fill="#e8e7e5"/>
<path d="M68.34,569.30H71.26A3.74,3.74 0 0 1 75.00,573.04V580.96A3.74,3.74 0 0 1 71.26,584.70H68.34A3.74,3.74 0 0 1 64.60,580.96V573.04A3.74,3.74 0 0 1 68.34,569.30z" fill="#372c52"/>
<path d="M69.80,572.80H69.80A0.85,0.85 0 0 1 70.65,573.65V574.71A0.85,0.85 0 0 1 69.80,575.56H69.80A0.85,0.85 0 0 1 68.95,574.71V573.65A0.85,0.85 0 0 1 69.80,572.80zM69.80,579.06H69.80A0.85,0.85 0 0 1 70.65,579.91V580.35A0.85,0.85 0 0 1 69.80,581.20H69.80A0.85,0.85 0 0 1 68.95,580.35V579.91A0.85,0.85 0 0 1 69.80,579.06zM69.80,579.06h6.20v1.02h-6.20z" fill="#e8e7e5"/>
<path d="M75.60,580.35h4.35v4.35h-4.35zM79.95,584.20 L79.95,585.70 L76.80,587.90 L75.90,587.90 L77.40,584.20z" fill="#372c52"/>
<path d="M83.50,569.30h4.35v15.40h-4.35zM89.75,569.30h4.35v7.70h-4.35zM90.15,576.23h4.35v8.47h-4.35zM87.65,574.84 L89.75,573.30 L90.15,580.70 L87.65,579.16z" fill="#372c52"/>
<path d="M95.50,574.25 L93.20,576.85 L95.50,579.45z" fill="#e8e7e5"/>
<path d="M95.00,569.30h8.60v3.50h-8.60zM97.02,569.30h4.57v15.40h-4.57z" fill="#372c52"/>
<path d="M108.07,569.30H111.43A3.57,3.57 0 0 1 115.00,572.87V581.13A3.57,3.57 0 0 1 111.43,584.70H108.07A3.57,3.57 0 0 1 104.50,581.13V572.87A3.57,3.57 0 0 1 108.07,569.30z" fill="#372c52"/>
<path d="M109.75,572.80H109.75A0.90,0.90 0 0 1 110.65,573.70V580.30A0.90,0.90 0 0 1 109.75,581.20H109.75A0.90,0.90 0 0 1 108.85,580.30V573.70A0.90,0.90 0 0 1 109.75,572.80z" fill="#e8e7e5"/>
<path d="M123.07,569.30H126.43A3.57,3.57 0 0 1 130.00,572.87V581.13A3.57,3.57 0 0 1 126.43,584.70H123.07A3.57,3.57 0 0 1 119.50,581.13V572.87A3.57,3.57 0 0 1 123.07,569.30zM123.42,565.30H123.85V577.00H119.50V569.21A3.91,3.91 0 0 1 123.42,565.30zM122.50,565.30H128.70A0.50,0.50 0 0 1 129.20,565.80V568.60A0.50,0.50 0 0 1 128.70,569.10H120.50V567.30A2.00,2.00 0 0 1 122.50,565.30z" fill="#372c52"/>
<path d="M124.75,572.80H124.75A0.90,0.90 0 0 1 125.65,573.70V580.30A0.90,0.90 0 0 1 124.75,581.20H124.75A0.90,0.90 0 0 1 123.85,580.30V573.70A0.90,0.90 0 0 1 124.75,572.80z" fill="#e8e7e5"/>
<path d="M137.65,569.30h4.35v15.40h-4.35zM132.00,569.30h10.00v3.50h-10.00zM132.00,569.30 L136.35,569.30 L136.35,573.70 Q136.15,584.60 130.50,584.70 L130.50,581.00 Q131.80,580.60 132.00,573.70 z" fill="#372c52"/>
<path d="M141.90,569.30h4.35v10.68h-4.35zM148.15,569.30h4.35v18.00h-4.35zM141.90,578.23H152.50V581.73H143.90A2.00,2.00 0 0 1 141.90,579.73V578.23zM142.50,584.20H152.50V585.70A1.60,1.60 0 0 1 150.90,587.30H144.10A1.60,1.60 0 0 1 142.50,585.70V584.20z" fill="#372c52"/>
<path d="M158.93,569.30h4.15v15.40h-4.15zM153.40,569.30h4.26v7.70h-4.26zM164.34,569.30h4.26v7.70h-4.26zM153.00,576.23h4.46v8.47h-4.46zM164.54,576.23h4.46v8.47h-4.46zM157.26,573.61 L161.00,575.46 L164.74,573.61 L164.74,580.39 L161.00,578.85 L157.26,580.39z" fill="#372c52"/>
<path d="M152.00,573.25 L154.70,576.85 L152.00,580.45zM170.00,573.25 L167.30,576.85 L170.00,580.45z" fill="#e8e7e5"/>
<path d="M177.65,569.30h4.35v15.40h-4.35zM172.00,569.30h10.00v3.50h-10.00zM172.00,569.30 L176.35,569.30 L176.05,581.20 L170.90,581.20zM169.70,581.20h13.40v3.50h-13.40zM169.70,584.60h3.48v3.00h-3.48zM179.62,584.60h3.48v3.00h-3.48z" fill="#372c52"/>
<path d="M187.87,569.30H190.73A3.67,3.67 0 0 1 194.40,572.97V584.70H187.87A3.67,3.67 0 0 1 184.20,581.03V572.97A3.67,3.67 0 0 1 187.87,569.30z" fill="#372c52"/>
<path d="M189.65,572.80H188.95A1.10,1.10 0 0 1 190.05,573.90V575.46H188.55V573.90A1.10,1.10 0 0 1 189.65,572.80zM183.20,574.38h5.40v1.08h-5.40zM189.30,578.44H189.30A0.75,0.75 0 0 1 190.05,579.19V580.45A0.75,0.75 0 0 1 189.30,581.20H189.30A0.75,0.75 0 0 1 188.55,580.45V579.19A0.75,0.75 0 0 1 189.30,578.44z" fill="#e8e7e5"/>
<path d="M204.66,569.30H207.49A3.01,3.01 0 0 1 210.50,572.31V581.69A3.01,3.01 0 0 1 207.49,584.70H204.66A3.01,3.01 0 0 1 201.65,581.69V572.31A3.01,3.01 0 0 1 204.66,569.30zM196.00,569.30h4.35v15.40h-4.35zM196.00,575.46h7.35v3.50h-7.35z" fill="#372c52"/>
<path d="M206.07,572.80H206.08A0.07,0.07 0 0 1 206.15,572.88V581.12A0.07,0.07 0 0 1 206.08,581.20H206.07A0.07,0.07 0 0 1 206.00,581.12V572.88A0.07,0.07 0 0 1 206.07,572.80z" fill="#e8e7e5"/>
<path d="M211.00,569.30h9.60v3.50h-9.60zM213.52,569.30h4.57v15.40h-4.57z" fill="#372c52"/>
<path d="M221.60,580.35h4.35v4.35h-4.35zM225.95,584.20 L225.95,585.70 L222.80,587.90 L221.90,587.90 L223.40,584.20z" fill="#372c52"/>
<path d="M230.00,569.30h10.20v3.50h-10.20zM230.00,569.30h4.35v15.40h-4.35zM235.85,569.30h4.35v15.40h-4.35z" fill="#372c52"/>
<path d="M244.74,569.30H248.06A3.54,3.54 0 0 1 251.60,572.84V581.16A3.54,3.54 0 0 1 248.06,584.70H244.74A3.54,3.54 0 0 1 241.20,581.16V572.84A3.54,3.54 0 0 1 244.74,569.30z" fill="#372c52"/>
<path d="M246.40,572.80H246.40A0.85,0.85 0 0 1 247.25,573.65V580.35A0.85,0.85 0 0 1 246.40,581.20H246.40A0.85,0.85 0 0 1 245.55,580.35V573.65A0.85,0.85 0 0 1 246.40,572.80z" fill="#e8e7e5"/>
<path d="M252.00,569.30h9.00v3.50h-9.00zM254.22,569.30h4.57v15.40h-4.57z" fill="#372c52"/>
<path d="M265.47,569.30H268.33A3.67,3.67 0 0 1 272.00,572.97V581.03A3.67,3.67 0 0 1 268.33,584.70H265.47A3.67,3.67 0 0 1 261.80,581.03V572.97A3.67,3.67 0 0 1 265.47,569.30z" fill="#372c52"/>
<path d="M266.90,572.80H266.90A0.75,0.75 0 0 1 267.65,573.55V574.81A0.75,0.75 0 0 1 266.90,575.56H266.90A0.75,0.75 0 0 1 266.15,574.81V573.55A0.75,0.75 0 0 1 266.90,572.80zM266.90,579.06H266.90A0.75,0.75 0 0 1 267.65,579.81V580.45A0.75,0.75 0 0 1 266.90,581.20H266.90A0.75,0.75 0 0 1 266.15,580.45V579.81A0.75,0.75 0 0 1 266.90,579.06zM266.90,579.06h6.10v1.02h-6.10z" fill="#e8e7e5"/>
<path d="M273.00,569.30h4.35v19.20h-4.35zM273.00,569.30H280.17A4.03,4.03 0 0 1 284.20,573.33V580.67A4.03,4.03 0 0 1 280.17,584.70H273.00V569.30z" fill="#372c52"/>
<path d="M278.60,572.80H278.60A1.25,1.25 0 0 1 279.85,574.05V579.95A1.25,1.25 0 0 1 278.60,581.20H278.60A1.25,1.25 0 0 1 277.35,579.95V574.05A1.25,1.25 0 0 1 278.60,572.80z" fill="#e8e7e5"/>
<path d="M291.05,569.30h4.35v15.40h-4.35zM288.58,569.30H295.40V578.54H288.58A3.18,3.18 0 0 1 285.40,575.36V572.48A3.18,3.18 0 0 1 288.58,569.30zM289.35,575.54 L291.55,575.54 L291.55,580.04 L289.75,584.70 L284.60,584.70z" fill="#372c52"/>
<path d="M291.15,572.80H291.05V575.04H291.15A1.40,1.40 0 0 1 289.75,573.64V574.20A1.40,1.40 0 0 1 291.15,572.80z" fill="#e8e7e5"/>
<path d="M297.00,569.30h4.35v15.40h-4.35zM302.85,569.30h4.35v15.40h-4.35zM297.00,575.23h10.20v3.50h-10.20z" fill="#372c52"/>
<path d="M309.00,569.30h4.35v15.40h-4.35zM309.00,575.46H316.35A3.15,3.15 0 0 1 319.50,578.61V581.55A3.15,3.15 0 0 1 316.35,584.70H309.00V575.46zM320.15,569.30h4.35v15.40h-4.35z" fill="#372c52"/>
<path d="M313.35,578.96H313.75A1.40,1.40 0 0 1 315.15,580.36V579.80A1.40,1.40 0 0 1 313.75,581.20H313.35V578.96z" fill="#e8e7e5"/>
<path d="M325.50,580.35h4.35v4.35h-4.35z" fill="#372c52"/>
<text x="336" y="585" font-style="italic" font-size="12" fill="#444" textLength="89" lengthAdjust="spacingAndGlyphs">Д. Р. Р. Толкиен</text>

</g>
</svg>
</body></html>
